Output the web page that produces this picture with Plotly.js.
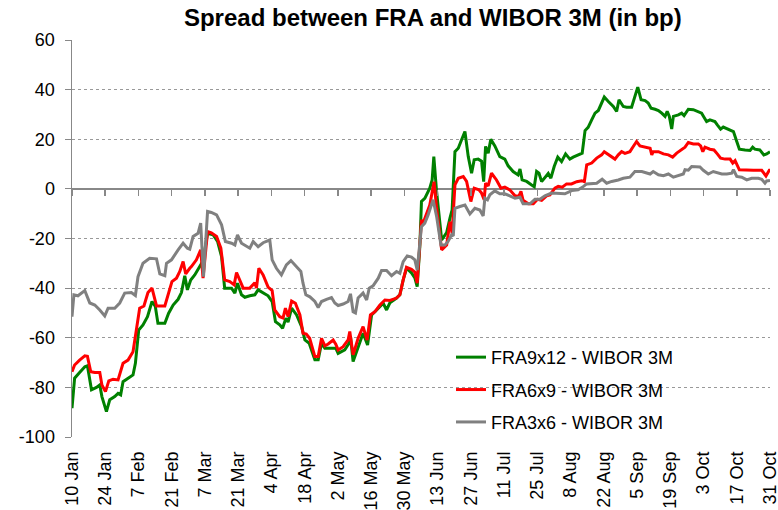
<!DOCTYPE html>
<html>
<head>
<meta charset="utf-8">
<script src="https://cdn.plot.ly/plotly-3.0.1.min.js"></script>
<style>html,body{margin:0;padding:0;background:#fff;}#chart{width:778px;height:510px;}</style>
</head>
<body>
<div id="chart"></div>
<script>
// Day offsets counted from 10 Jan 2011, values in bp
const fra9x12Days = [0,1.1,3.2,5.4,6.5,8.2,10.3,11.7,12.6,14.5,15.9,18,19.4,20.5,21.5,23.6,25.7,26.7,28.1,29.9,31.8,33.7,35.1,36.2,39.1,40.7,42.6,44.7,46.1,47.5,48.6,50,51.7,53.8,55.2,57.1,59.4,61.3,63,64.3,67.2,68.6,69.7,71.4,72.8,74.9,77,78.4,80.5,82.6,84.3,85.7,87.5,88.7,90.1,91,92.5,94.6,96.7,98.1,99.9,100.9,102.3,103.7,105.1,106.5,109.3,111.1,112.1,114.9,116.7,117.3,118.4,120.5,122.6,124.5,126.2,127.6,129.7,131.1,132.5,133.9,136.7,138.1,139.5,140.9,143,144.4,145.4,146.5,147.2,148.6,150.7,151.7,152.4,153.5,155.7,157.8,159.2,160.1,161.3,162.7,164.1,165.5,166.9,168.3,169.4,171.1,172.5,173.4,174.2,175.3,176.4,178.1,180.2,182.3,183.7,185.8,187.9,188.7,189.6,191.5,193.6,194.7,195.7,196.7,197.8,199.5,200.6,201.7,203.1,204.6,206.2,207.9,209.7,211.1,213.2,214.9,216.1,217.4,218.9,220.3,221.7,223.1,224.2,225.9,228,229.4,230.4,232.2,233.6,235.7,237.1,238.3,239.7,241.4,242.7,243.9,245.6,247,248.4,249.8,250.7,251.6,252.6,253.3,255.4,256.8,257.8,259.6,261.7,263.8,265.2,266.2,267.3,268.7,270.8,271.8,273.2,274.3,276.4,278.6,280,281.1,283.5,285.6,286.7,287.6,289.7,291.4,292.6,294];
const fra9x12Vals = [-88.4,-76.3,-74,-71.7,-71.3,-81,-80,-79,-83.7,-89.8,-85,-83.7,-82.4,-83,-77.7,-76.3,-75,-70.3,-56.9,-54.8,-51.5,-45.4,-47.4,-54.2,-54.2,-50.1,-46.8,-44.5,-41.8,-35,-40.7,-36.7,-34.7,-31.3,-29,-17.9,-18.5,-21.2,-27.3,-40,-40,-42,-38,-42.7,-43.7,-43.1,-42.7,-40.7,-42,-43.1,-45.4,-53.5,-54.8,-56.2,-52.1,-53.7,-48.1,-50.8,-55.5,-60.9,-62.2,-64.9,-68.9,-68.9,-62.2,-64.2,-64.2,-64.2,-66.3,-64.9,-62.2,-59.5,-69.6,-63.6,-58.2,-62.9,-50.8,-49.5,-47.2,-46.1,-48.8,-45.9,-44,-42.7,-36.7,-32,-33.9,-35.9,-39.4,-23.3,-5.1,-3.8,0.3,3.6,13,-0.4,-20.6,-17.6,-11.8,-8.5,15,16.4,19.8,23.1,13,6.3,11.7,12,11.2,2.9,17.1,14.4,20,17.3,13,12,9.3,7,5.6,8,3.6,3,1.6,0.9,7,6.3,2.9,5,6.2,4.3,9,12.8,11,14.1,12,12.8,13.7,14.4,23.5,24.8,27.8,30.5,31.6,34.6,37,35.2,33.2,31.2,35.9,33.2,32.9,32.9,37.2,41,35.9,35.6,34.6,32.5,32.1,31.6,30.5,29.2,31.2,29.2,24.1,29.2,29.8,30.5,29.5,32.1,31.9,31.2,30.5,28.9,27.1,27.8,27.1,25.8,24.1,24.9,24.1,23.1,19.1,16,15.7,15.5,16.8,16,15.7,13.7,14.1,15];

const fra6x9Days = [0,1.1,3.2,5.4,6.5,7.9,9.6,11.7,12.6,14.1,15.5,17.3,19.4,21.5,23.6,25.7,27.1,28.5,30.3,32,33.7,35.6,39.1,40.5,42.1,44,45.4,46.8,47.9,49.6,50.3,52.4,54.2,55.2,57.1,58.7,60.9,62.7,64.3,66.5,68.3,69.3,70.7,72.1,74.9,77,77.7,78.7,80.5,82.6,84.3,85.4,87.5,88.9,89.9,91,92.5,94.1,96,97.3,98.7,100.1,102.3,103.7,105.1,106.5,107.9,110,111.1,112.1,114.2,116.3,117,118.4,120.5,122.6,124.3,125.7,127.6,129.7,131.8,133.9,136.7,138.1,139.5,140.9,143,144.4,145.4,146.5,147.2,147.9,149.3,150.7,152.5,153.5,155.7,157.8,159.2,160.1,161.3,162.7,164.8,166.2,168,169.4,171.4,172.5,173.6,174.2,175.3,176.7,178.8,180.7,182.3,184.4,186.6,188.2,189.1,190,192.2,194.3,196.1,197.8,199.9,201.3,203.4,204.8,206.5,208.3,210.4,212.6,214.7,215.8,216.8,218.9,221,223.1,224.2,226.6,228.7,230.1,231.5,232.9,235,236.4,237.8,239.2,241.3,243.5,244.2,244.8,247,249.1,251.2,253,254.7,256.8,258.2,259.6,261.7,263.8,264.8,265.7,266.6,268.7,270.4,271.8,273.2,275.1,277.2,278.3,279.3,281.1,284.2,287,290.5,292.3,293.7,294];
const fra6x9Vals = [-73.7,-71,-69,-67.3,-67.5,-73.7,-74,-74,-79,-81.7,-77.4,-76.7,-77,-70.3,-69,-65.6,-56.9,-48.1,-47.2,-41.8,-40,-47.2,-47.2,-42.7,-37.4,-36,-33.3,-29.3,-34.3,-32,-31.3,-28.6,-24.6,-36,-17.2,-17.7,-19.2,-23.9,-36.7,-37.4,-38.7,-33.7,-36.7,-40,-40,-37.8,-40,-32,-34.7,-39.6,-41,-48.8,-51.5,-52,-48.1,-51.5,-45.2,-46.1,-50.8,-58.2,-58.5,-60.2,-67.6,-67.6,-60.2,-63.3,-62.5,-60.9,-62.6,-64.9,-63.6,-60.9,-57.5,-66.9,-60.2,-55.5,-60.9,-50.8,-49.5,-46.8,-44.8,-45,-44,-42.7,-36.7,-31.6,-32.4,-33.5,-38,-23.3,-12.5,-13.8,-10.5,-6.5,2.9,-7.1,-24.6,-22.6,-13.2,-17.9,1.6,4.3,5,3,-5.1,0.3,-0.4,-1.7,-4.4,2.3,1.2,6.3,3.6,0.3,0.7,-0.4,-2.8,-3,-1,-4.6,-6,-6,-4.2,-4.6,-2.8,-2.4,0.3,1,0.7,2,2,2.9,3.3,2.9,9.7,10.4,12.4,13.7,15,13.3,12,13.7,15,14.3,15,17.1,19.1,17.3,16.8,16.4,13.7,15,15,14.1,13.7,12.8,14.4,16,16.8,18.7,18.1,18.1,17.3,15,16.8,16,15.7,14.1,12.4,12,12,10.4,11.4,7.7,7.5,7.5,7.5,5.2,7.5,7.5];

const fra3x6Days = [0,0.8,2.5,5.4,7.5,9.6,11.7,13.8,15.2,18,20.1,22.2,25,26.7,27.8,29.9,32.7,35.6,37,39.1,39.8,41.9,44.7,46.8,48.6,49.6,51,53.1,54.2,55.4,57.1,58.7,60.9,63,64.6,67.2,68.6,69.7,71.4,73.5,74.9,76.3,78.4,80.5,83.3,84.3,86.1,88.2,90.3,92.2,93.8,96.4,97.3,98.5,100.2,102.3,103.7,105.1,107.2,109.3,110.7,112.1,114.2,116.3,117.3,118.4,119.4,120.5,122.6,124.1,125.2,126.8,129,130.4,132.5,134.6,136.7,138.1,139.5,141.2,143,144.4,145.4,146.5,147.2,148.6,150,152.1,153.6,155.4,157.1,158.4,159.9,160.6,161.3,163.4,165.5,167.6,169.7,171.8,173.2,173.9,175,176,178.1,180.2,182.3,184.4,186.6,188.7,190,192.9,195,197.1,199.2,202,204.8,207.6,210.5,213.2,215.3,216.8,221,223.3,225.2,227.3,230.1,232.2,235,237.1,240,242.1,243.5,244.8,247,249.1,251.2,253.3,255.4,257.5,258.2,259.6,261,263.1,264.5,265.9,268,270.1,272.2,273.7,275.8,277.9,278.6,280,282.1,284.2,286.3,289.1,290.5,291.9,292.6,294];
const fra3x6Vals = [-51.5,-42.7,-43.1,-41,-46,-46.8,-48.8,-51.2,-48.1,-48.1,-46,-42,-41.8,-43,-35.4,-30,-28,-28.2,-34.3,-35,-30,-28.6,-24.6,-21.9,-23.9,-24.3,-19.2,-17.9,-13.8,-35.4,-9.1,-9.5,-10.5,-14.5,-21.2,-21.9,-22.6,-18.5,-21.9,-23.3,-23.9,-21.2,-23.3,-21.7,-20.6,-28.6,-32,-34.7,-30.6,-28.9,-30.6,-33.3,-38,-42.7,-43.5,-45.4,-47.8,-45.4,-44.5,-43.8,-46,-47,-46.4,-45.4,-42.3,-49.5,-50,-44,-42,-44.8,-40,-39.1,-36,-32.9,-32.9,-35,-33.3,-34,-29.3,-27,-27.5,-28.6,-32.7,-19.9,-15.2,-13.8,-10.5,-4.4,-11.2,-22.6,-22.6,-21.2,-18.5,-19,-7.8,-7.1,-6.5,-10.1,-7.8,-8.5,-10.9,-3.8,-4.4,-2.4,-0.8,-2,-2,-2.8,-3.8,-3.4,-6,-6,-4.2,-4.2,-2.8,-1.7,-2,-2,-0.7,-0.4,0.9,2,2.3,3.9,2.3,3,3.6,4.3,4.7,7,7,6.5,6,7,5.7,5.3,6,4.7,5.2,6,7.7,7.5,9,9,8.8,7.5,6,7,6.3,6,6,6.3,7.7,5,4.7,3.6,4.3,4.3,3.9,2.3,3.2,3.4];

const seriesNames = ['FRA9x12 - WIBOR 3M', 'FRA6x9 - WIBOR 3M', 'FRA3x6 - WIBOR 3M'];
const seriesColors = ['#008000', '#ff0000', '#808080'];
const tickDates = ['2011-01-10','2011-01-24','2011-02-07','2011-02-21','2011-03-07','2011-03-21','2011-04-04','2011-04-18','2011-05-02','2011-05-16','2011-05-30','2011-06-13','2011-06-27','2011-07-11','2011-07-25','2011-08-08','2011-08-22','2011-09-05','2011-09-19','2011-10-03','2011-10-17','2011-10-31'];
const tickLabels = ['10 Jan','24 Jan','7 Feb','21 Feb','7 Mar','21 Mar','4 Apr','18 Apr','2 May','16 May','30 May','13 Jun','27 Jun','11 Jul','25 Jul','8 Aug','22 Aug','5 Sep','19 Sep','3 Oct','17 Oct','31 Oct'];
const yTicks = [-100,-80,-60,-40,-20,0,20,40,60];
const yTickLabels = ['-100','-80','-60','-40','-20','0','20','40','60'];

const base = Date.UTC(2011,0,10);
function toDate(d){ return new Date(base + d*86400000).toISOString().slice(0,19).replace('T',' '); }

const days = [fra9x12Days, fra6x9Days, fra3x6Days];
const vals = [fra9x12Vals, fra6x9Vals, fra3x6Vals];
const traces = seriesNames.map((n,i)=>({
  type:'scatter', mode:'lines', name:n,
  x: days[i].map(toDate), y: vals[i],
  line:{color:seriesColors[i], width:3},
  legendgroup:'g'+i
}));
// invisible helper so the second x axis (tick marks on the zero line) is drawn
traces.unshift({type:'scatter', mode:'lines', x:[tickDates[0]], y:[0], xaxis:'x2', yaxis:'y', showlegend:false, hoverinfo:'skip', line:{color:'rgba(0,0,0,0)'}});

const xr = ['2011-01-10','2011-10-31'];
const layout = {
  width:778, height:510,
  margin:{l:72, r:8, t:40, b:73},
  paper_bgcolor:'#fff', plot_bgcolor:'#fff',
  font:{family:'Liberation Sans, Arial, sans-serif', color:'#000', size:18},
  title:{text:'<b>Spread between FRA and WIBOR 3M (in bp)</b>', font:{size:24, color:'#000'}, x:0.517, xref:'paper', xanchor:'center', y:0.965, yanchor:'middle'},
  xaxis:{type:'date', range:xr, tickvals:tickDates, ticktext:tickLabels, tickangle:-90, showgrid:false, zeroline:false, showline:false, ticks:'', ticklabelstandoff:10, ticklabeloverflow:'allow', tickfont:{size:18}},
  xaxis2:{type:'date', range:xr, overlaying:'x', anchor:'free', position:0.6247, side:'bottom', tickvals:tickDates, showticklabels:false, ticks:'outside', ticklen:6, tickcolor:'#888', tickwidth:1.5, showline:false, showgrid:false, zeroline:false},
  yaxis:{range:[-100,60], tickvals:yTicks, ticktext:yTickLabels, showgrid:true, gridcolor:'#999', griddash:'dot', gridwidth:1, zeroline:true, zerolinecolor:'#888', zerolinewidth:1.5, showline:true, linecolor:'#888', linewidth:1.5, ticks:'outside', ticklen:6, tickcolor:'#888', ticklabelstandoff:6, tickfont:{size:18}},
  showlegend:true,
  legend:{x:0.543, xanchor:'left', y:0.247, yanchor:'top', bgcolor:'rgba(0,0,0,0)', font:{size:18}, traceorder:'grouped', tracegroupgap:6},
};
Plotly.newPlot('chart', traces, layout, {staticPlot:true, displayModeBar:false});
</script>
</body>
</html>
